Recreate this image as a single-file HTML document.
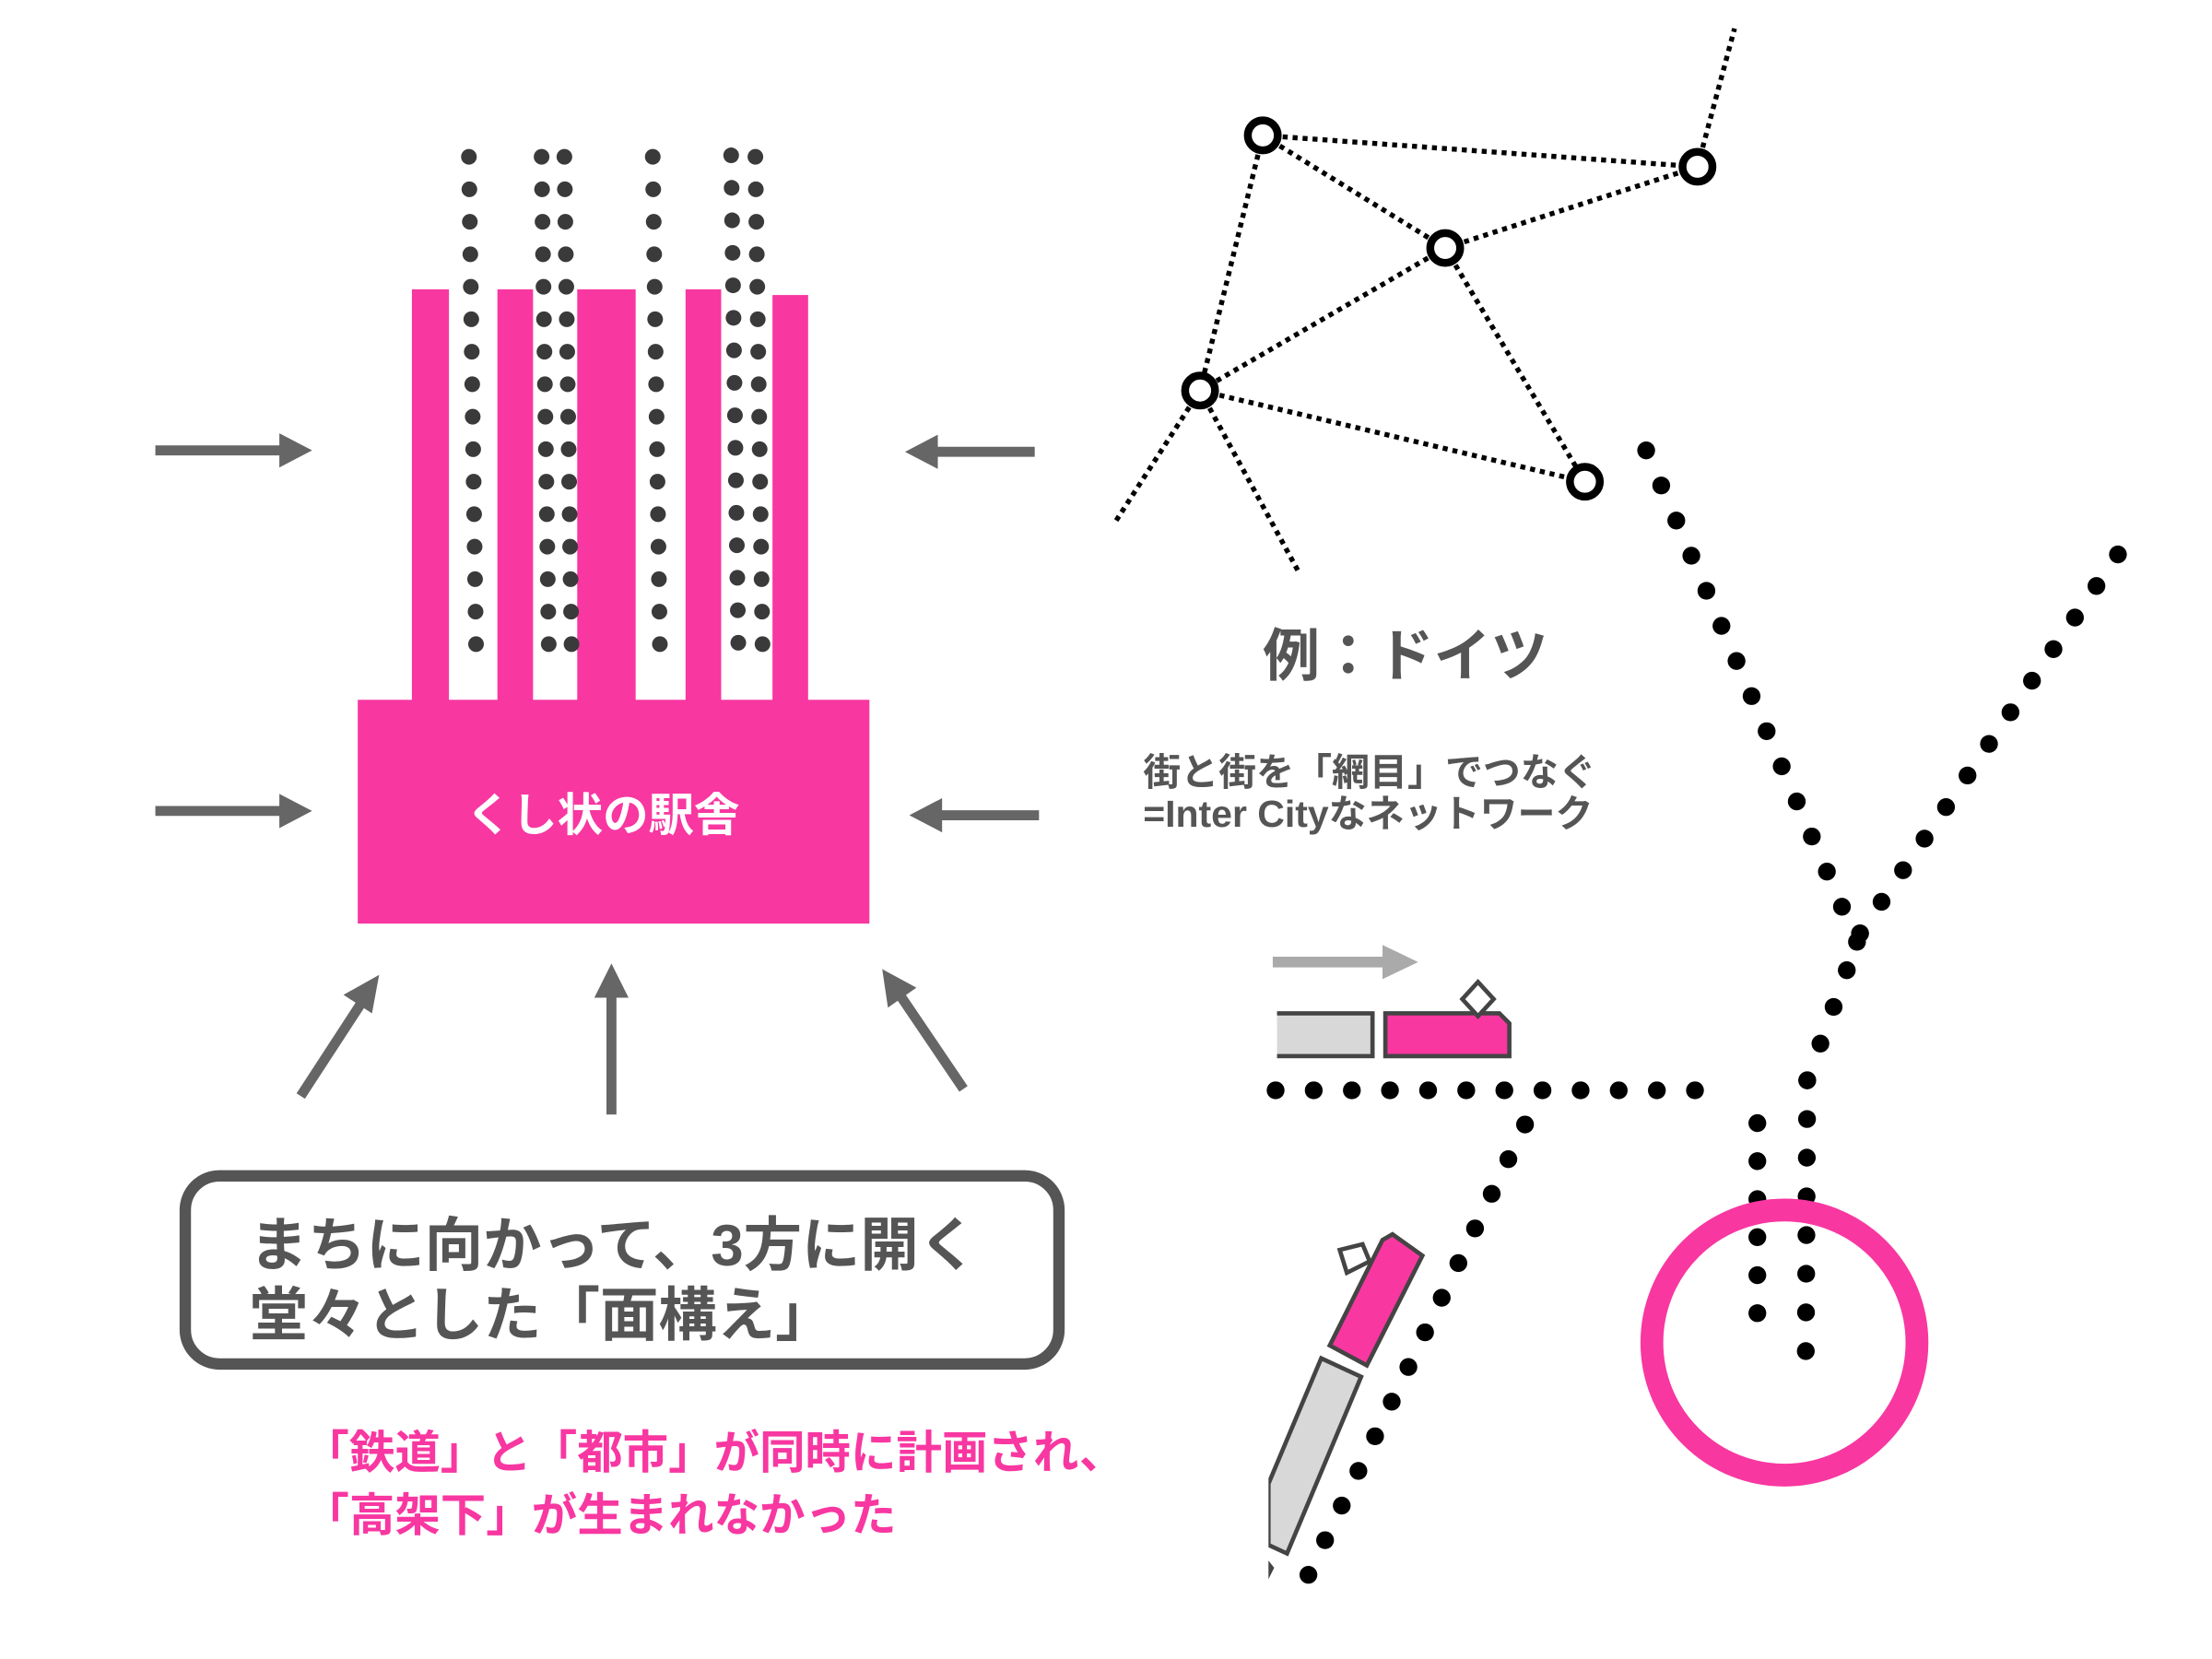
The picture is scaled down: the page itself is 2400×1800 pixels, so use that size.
<!DOCTYPE html>
<html><head><meta charset="utf-8"><style>
html,body{margin:0;padding:0;background:#fff;}
svg{display:block;}
text{font-family:"Liberation Sans","Noto Sans CJK JP",sans-serif;font-weight:bold;}
</style></head><body>
<svg width="2400" height="1800" viewBox="0 0 1552 1164" xmlns="http://www.w3.org/2000/svg">
<rect width="1552" height="1164" fill="#fff"/>
<g fill="#F837A1">
<rect x="289" y="203" width="26" height="300"/>
<rect x="349" y="203" width="25" height="300"/>
<rect x="405" y="203" width="41" height="300"/>
<rect x="481" y="203" width="25" height="300"/>
<rect x="542" y="207" width="25" height="296"/>
<rect x="251" y="491" width="359" height="157"/>
</g>
<text x="423" y="583" font-size="32" fill="#fff" text-anchor="middle">くし状の駅舎</text>
<g stroke="#3a3a3a" stroke-width="11" stroke-linecap="round" stroke-dasharray="0 22.8" fill="none">
<line x1="329" y1="110" x2="334" y2="452"/>
<line x1="380" y1="110" x2="385" y2="452"/>
<line x1="396" y1="110" x2="401" y2="452"/>
<line x1="458" y1="110" x2="463" y2="452"/>
<line x1="513" y1="109" x2="518" y2="451"/>
<line x1="530" y1="110" x2="535" y2="452"/>
</g>
<g stroke="#666" stroke-width="7" fill="#666">
<line x1="109" y1="316" x2="200" y2="316"/><polygon points="219,316 196,304 196,328" stroke="none"/>
<line x1="109" y1="569" x2="200" y2="569"/><polygon points="219,569 196,557 196,581" stroke="none"/>
<line x1="726" y1="317" x2="655" y2="317"/><polygon points="635,317 658,305 658,329" stroke="none"/>
<line x1="729" y1="572" x2="658" y2="572"/><polygon points="638,572 661,560 661,584" stroke="none"/>
<line x1="211" y1="769" x2="254" y2="703"/><polygon points="266,684 261,711 241,698" stroke="none"/>
<line x1="429" y1="782" x2="429" y2="698"/><polygon points="429,676 441,700 417,700" stroke="none"/>
<line x1="676" y1="764" x2="632" y2="699"/><polygon points="619,680 643,693 623,707" stroke="none"/>
</g>
<rect x="130" y="825" width="613" height="132" rx="24" fill="#fff" stroke="#555" stroke-width="8"/>
<text x="175" y="888" font-size="41" fill="#555">まちに向かって、3方に開く</text>
<text x="175" y="937" font-size="41" fill="#555">堂々とした「面構え」</text>
<text x="213" y="1030" font-size="32" fill="#F837A1">「鉄道」と「都市」が同時に計画され、</text>
<text x="213" y="1074" font-size="32" fill="#F837A1">「高架下」が生まれなかった</text>
<g stroke="#000" stroke-width="3.5" stroke-dasharray="3.5 3.5" fill="none">
<line x1="886" y1="95" x2="1191" y2="117"/>
<line x1="886" y1="95" x2="1014" y2="174"/>
<line x1="1014" y1="174" x2="1191" y2="117"/>
<line x1="1014" y1="174" x2="842" y2="274"/>
<line x1="886" y1="95" x2="842" y2="274"/>
<line x1="842" y1="274" x2="782" y2="367"/>
<line x1="842" y1="274" x2="911" y2="401"/>
<line x1="842" y1="274" x2="1112" y2="338"/>
<line x1="1014" y1="174" x2="1112" y2="338"/>
<line x1="1191" y1="117" x2="1217" y2="20"/>
</g>
<g fill="#fff" stroke="#000" stroke-width="5.5">
<circle cx="886" cy="95" r="10.5"/>
<circle cx="1191" cy="117" r="10.5"/>
<circle cx="1014" cy="174" r="10.5"/>
<circle cx="842" cy="274" r="10.5"/>
<circle cx="1112" cy="338" r="10.5"/>
</g>
<text x="886" y="474" font-size="40" fill="#555">例：ドイツ</text>
<text x="802" y="551" font-size="26.5" fill="#555">街と街を「網目」でつなぐ</text>
<text x="802" y="580" font-size="26.5" fill="#555">=Inter Cityなネットワーク</text>
<g stroke="#000" stroke-width="12.5" stroke-linecap="round" fill="none">
<line x1="1155" y1="316" x2="1303" y2="661" stroke-dasharray="0 26.8"/>
<line x1="1486" y1="389" x2="1305" y2="655" stroke-dasharray="0 26.8"/>
<line x1="1305" y1="655" x2="1268" y2="758" stroke-dasharray="0 27.35"/>
<line x1="1268" y1="758" x2="1267" y2="948" stroke-dasharray="0 27.14"/>
<line x1="1233" y1="788" x2="1233" y2="948" stroke-dasharray="0 26.67"/>
<line x1="895" y1="765" x2="1216" y2="765" stroke-dasharray="0 26.75"/>
<line x1="1070" y1="789" x2="918" y2="1105" stroke-dasharray="0 26.97"/>
</g>
<circle cx="1252" cy="942" r="93" fill="none" stroke="#F837A1" stroke-width="16"/>
<line x1="893" y1="675" x2="972" y2="675" stroke="#aaa" stroke-width="7.5"/>
<polygon points="995,675 970,663 970,687" fill="#aaa"/>
<rect x="885" y="711" width="78" height="30" fill="#d8d8d8" stroke="#444" stroke-width="3"/>
<path d="M972 711 H1052 L1059 718 V741 H972 Z" fill="#F837A1" stroke="#444" stroke-width="3"/>
<polygon points="1037,689 1048,701 1037,713 1026,701" fill="#fff" stroke="#444" stroke-width="3"/>
<rect x="860" y="700" width="36" height="50" fill="#fff"/>
<polygon points="970,870 977,866 998,881 959,958 933,944" fill="#F837A1" stroke="#444" stroke-width="3"/>
<polygon points="927,953 955,966 903,1090 890,1084 890,1041" fill="#d8d8d8" stroke="#444" stroke-width="3"/>
<polygon points="940,877 956,873 961,885 945,893" fill="#fff" stroke="#444" stroke-width="3"/>
<rect x="860" y="940" width="30" height="200" fill="#fff"/>
<polygon points="890,1095 894,1100 890,1108" fill="#444"/>
</svg>
</body></html>
